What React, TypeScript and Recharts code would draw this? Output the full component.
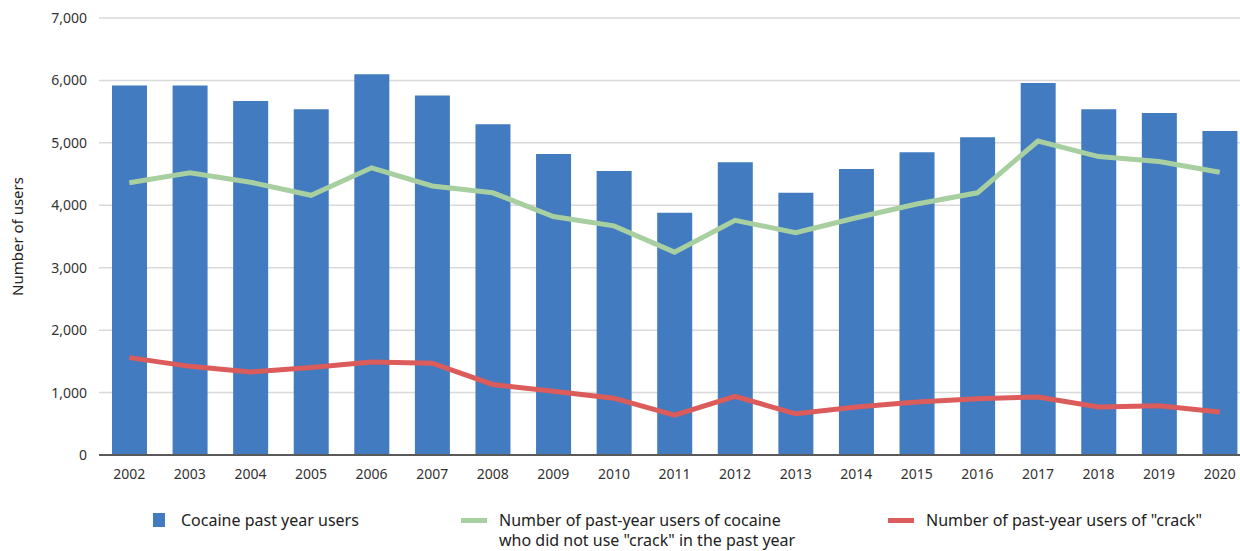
import { Bar, CartesianGrid, ComposedChart, Line, XAxis, YAxis } from 'recharts'

const years = [
  '2002', '2003', '2004', '2005', '2006', '2007', '2008', '2009', '2010', '2011',
  '2012', '2013', '2014', '2015', '2016', '2017', '2018', '2019', '2020',
]

const cocaineUsers = [
  5920, 5920, 5670, 5540, 6100, 5760, 5300, 4820, 4550, 3880,
  4690, 4200, 4580, 4850, 5090, 5960, 5540, 5480, 5190,
]

const cocaineNoCrack = [
  4360, 4520, 4370, 4160, 4600, 4310, 4200, 3820, 3670, 3250,
  3760, 3560, 3800, 4020, 4200, 5030, 4780, 4700, 4530,
]

const crackUsers = [
  1560, 1420, 1330, 1400, 1490, 1470, 1130, 1020, 910, 640,
  940, 660, 770, 850, 900, 930, 770, 790, 690,
]

const yTicks = [0, 1000, 2000, 3000, 4000, 5000, 6000, 7000]

const seriesNames = [
  'Cocaine past year users',
  'Number of past-year users of cocaine\nwho did not use "crack" in the past year',
  'Number of past-year users of "crack"',
]

const BLUE = '#427bbf'
const GREEN = '#a8cfa0'
const RED = '#dc5b5b'
const FONT = '"Noto Sans", sans-serif'

const chartData = years.map((year, i) => ({
  year,
  cocaine: cocaineUsers[i],
  noCrack: cocaineNoCrack[i],
  crack: crackUsers[i],
}))

function AxisTitle({ viewBox }: any) {
  const cy = viewBox.y + viewBox.height / 2
  return (
    <text
      x={23}
      y={cy}
      transform={`rotate(-90, 23, ${cy})`}
      textAnchor="middle"
      fill="#222"
      fontSize={15}
      fontFamily={FONT}
    >
      Number of users
    </text>
  )
}

function ChartLegend() {
  const items = [
    { left: 153, color: BLUE, kind: 'box' },
    { left: 461, color: GREEN, kind: 'line' },
    { left: 888, color: RED, kind: 'line' },
  ]
  return (
    <>
      {items.map((item, i) => (
        <div
          key={i}
          style={{
            position: 'absolute',
            left: item.left,
            top: 510,
            display: 'flex',
            alignItems: 'flex-start',
            fontFamily: FONT,
            fontSize: 16,
            lineHeight: '20px',
            color: '#222',
            whiteSpace: 'pre',
          }}
        >
          {item.kind === 'box' ? (
            <span style={{ width: 12, height: 14, marginTop: 3, background: item.color, marginRight: 16 }} />
          ) : (
            <span style={{ width: 26, height: 5, marginTop: 8, background: item.color, marginRight: 12 }} />
          )}
          <span>{seriesNames[i]}</span>
        </div>
      ))}
    </>
  )
}

export default function App() {
  return (
    <div style={{ position: 'absolute', left: 0, top: 0, width: 1240, height: 551, overflow: 'hidden', background: '#fff' }}>
      <ComposedChart
        width={1250}
        height={551}
        data={chartData}
        margin={{ top: 18, right: 0, left: 0, bottom: 66 }}
        barSize={35}
      >
        <CartesianGrid vertical={false} stroke="#d9d9d9" strokeWidth={1.5} />
        <XAxis
          dataKey="year"
          height={30}
          tickLine={false}
          tickSize={6}
          tickMargin={8}
          axisLine={{ stroke: '#595959', strokeWidth: 2 }}
          tick={{ fill: '#333', fontSize: 14, fontFamily: FONT }}
          interval={0}
        />
        <YAxis
          width={99}
          domain={[0, 7000]}
          ticks={yTicks}
          tickLine={false}
          axisLine={false}
          tickSize={12}
          tickMargin={0}
          tickFormatter={(v: number) => v.toLocaleString('en-US')}
          tick={{ fill: '#333', fontSize: 14, fontFamily: FONT }}
          label={<AxisTitle />}
        />
        <Bar dataKey="cocaine" name={seriesNames[0]} fill={BLUE} isAnimationActive={false} />
        <Line
          dataKey="noCrack"
          name={seriesNames[1]}
          stroke={GREEN}
          strokeWidth={5}
          dot={false}
          type="linear"
          isAnimationActive={false}
        />
        <Line
          dataKey="crack"
          name={seriesNames[2]}
          stroke={RED}
          strokeWidth={5}
          dot={false}
          type="linear"
          isAnimationActive={false}
        />
      </ComposedChart>
      <ChartLegend />
    </div>
  )
}
